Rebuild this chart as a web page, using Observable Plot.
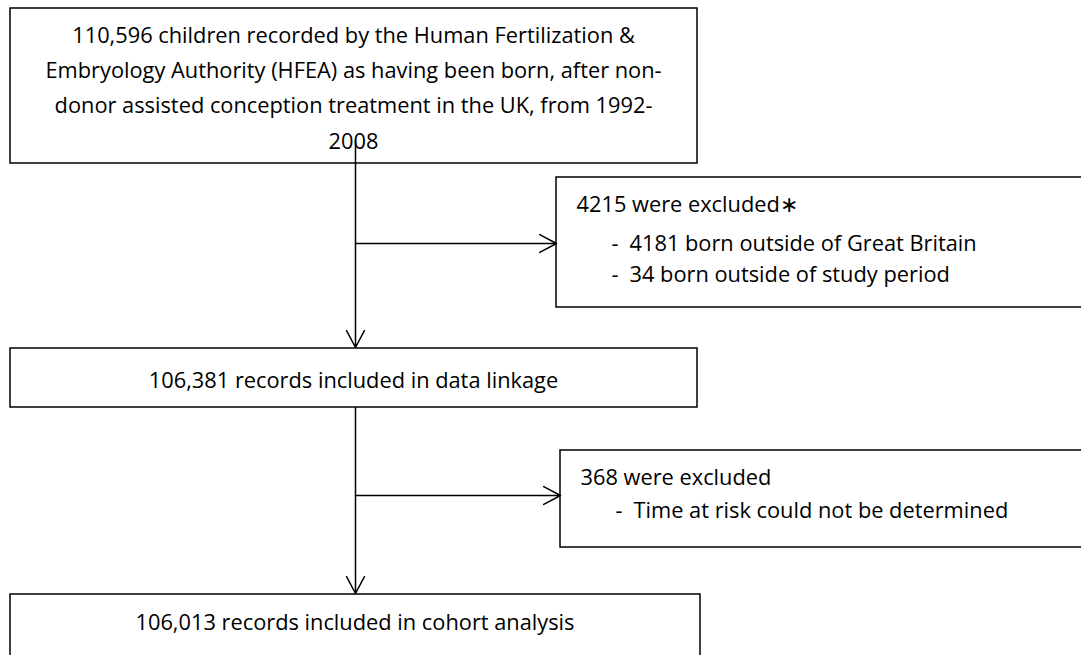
<!DOCTYPE html>
<html>
<head>
<meta charset="utf-8">
<script src="https://cdn.jsdelivr.net/npm/d3@7"></script>
<script src="https://cdn.jsdelivr.net/npm/@observablehq/plot@0.6"></script>
<style>
  html, body { margin: 0; padding: 0; background: #fff; overflow: hidden; }
  #chart svg { display: block; }
</style>
</head>
<body>
<div id="chart"></div>
<script>
// ---- Content (text and counts) ----
const mainLabels = [
  "110,596 children recorded by the Human Fertilization &\nEmbryology Authority (HFEA) as having been born, after non-\ndonor assisted conception treatment in the UK, from 1992-\n2008",
  "106,381 records included in data linkage",
  "106,013 records included in cohort analysis"
];
const exclusionHeads = ["4215 were excluded\u2217", "368 were excluded"];
const exclusionItems = [
  ["4181 born outside of Great Britain", "34 born outside of study period"],
  ["Time at risk could not be determined"]
];

// ---- Layout (pixel positions of the flowchart) ----
const W = 1081, H = 655;
const mainBoxes = [
  {x1: 10, x2: 697, y1: 8, y2: 163, ty: 84},
  {x1: 10, x2: 697, y1: 348, y2: 407, ty: 376},
  {x1: 10, x2: 700, y1: 594, y2: 657, ty: 618}
];
const sideBoxes = [
  {x1: 556, x2: 1083, y1: 177, y2: 307, tx: 576, ty: 205, dx: 611, ix: 629, iy: [244, 275]},
  {x1: 560, x2: 1083, y1: 450, y2: 547, tx: 580, ty: 478, dx: 615, ix: 633, iy: [511]}
];
const spineX = 355;
const arrows = [
  {x1: spineX, y1: 140, x2: spineX, y2: 347},
  {x1: spineX, y1: 243, x2: 556, y2: 243},
  {x1: spineX, y1: 407, x2: spineX, y2: 593},
  {x1: spineX, y1: 495, x2: 560, y2: 495}
];

const FONT = "'Open Sans', 'Noto Sans', sans-serif";
const FS = 21.8;

const mainText = mainBoxes.map((b, i) => ({x: (b.x1 + b.x2) / 2 - 0.5, y: b.ty, text: mainLabels[i]}));
const headText = sideBoxes.map((b, i) => ({x: b.tx, y: b.ty, text: exclusionHeads[i]}));
const dashText = [];
const itemText = [];
sideBoxes.forEach((b, i) => {
  exclusionItems[i].forEach((t, j) => {
    dashText.push({x: b.dx, y: b.iy[j], text: "-"});
    itemText.push({x: b.ix, y: b.iy[j], text: t});
  });
});

const chart = Plot.plot({
  width: W,
  height: H,
  margin: 0,
  style: {background: "#ffffff", fontFamily: FONT},
  x: {domain: [0, W], range: [0, W], axis: null},
  y: {domain: [0, H], range: [0, H], axis: null},
  marks: [
    Plot.rect([...mainBoxes, ...sideBoxes], {
      x1: "x1", x2: "x2", y1: "y1", y2: "y2",
      fill: "none", stroke: "#000", strokeWidth: 1.5
    }),
    Plot.arrow(arrows, {
      x1: "x1", y1: "y1", x2: "x2", y2: "y2",
      stroke: "#000", strokeWidth: 1.5, bend: 0,
      headLength: 19, headAngle: 56
    }),
    Plot.text(mainText, {
      x: "x", y: "y", text: "text",
      textAnchor: "middle", lineAnchor: "middle", lineHeight: 35.3 / FS,
      fontSize: FS, fill: "#000", fontFamily: FONT
    }),
    Plot.text(headText, {
      x: "x", y: "y", text: "text",
      textAnchor: "start", lineAnchor: "middle",
      fontSize: FS, fill: "#000", fontFamily: FONT
    }),
    Plot.text(dashText, {
      x: "x", y: "y", text: "text",
      textAnchor: "start", lineAnchor: "middle",
      fontSize: FS, fill: "#000", fontFamily: FONT
    }),
    Plot.text(itemText, {
      x: "x", y: "y", text: "text",
      textAnchor: "start", lineAnchor: "middle",
      fontSize: FS, fill: "#000", fontFamily: FONT
    })
  ]
});
document.getElementById("chart").appendChild(chart);
</script>
</body>
</html>
